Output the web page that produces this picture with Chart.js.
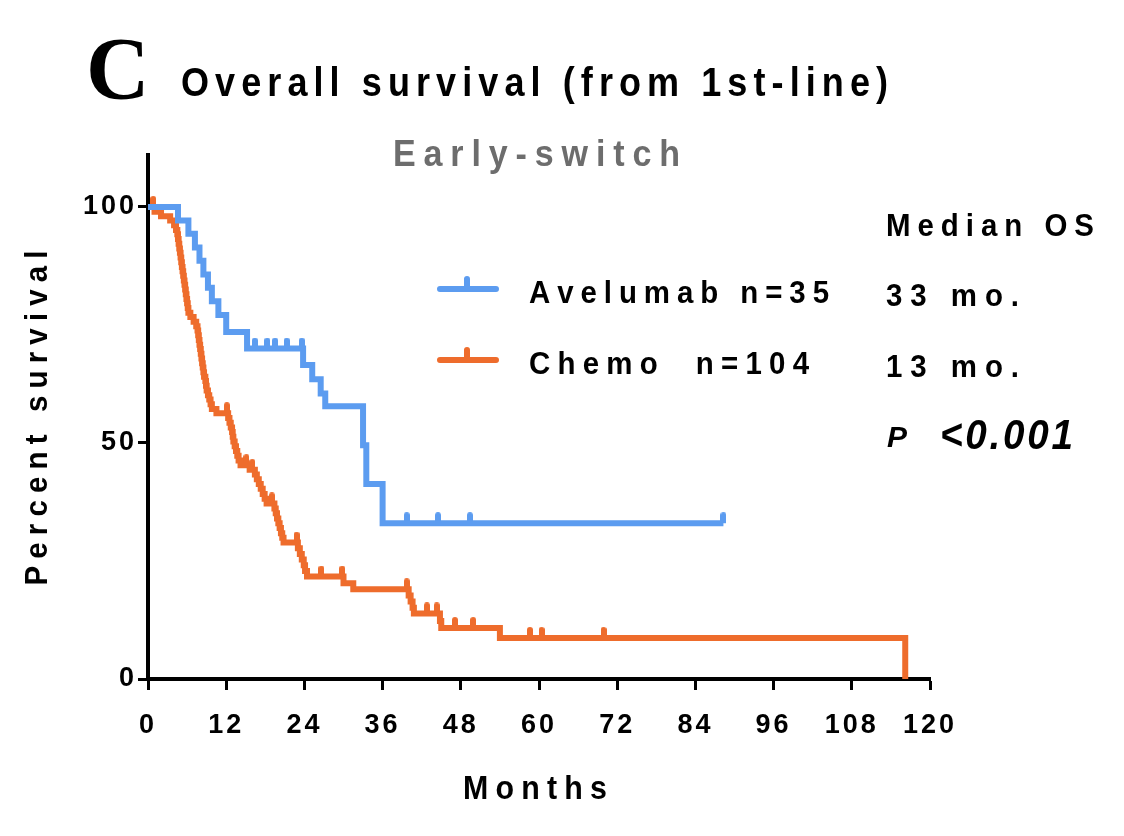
<!DOCTYPE html>
<html>
<head>
<meta charset="utf-8">
<script src="https://cdn.jsdelivr.net/npm/chart.js@4.4.1/dist/chart.umd.min.js"></script>
<style>
  html, body { margin: 0; padding: 0; background: #ffffff; }
  canvas { display: block; }
</style>
</head>
<body>
<canvas id="c" width="1124" height="836"></canvas>
<script>
// ---------- data ----------
const xTicks = [0, 12, 24, 36, 48, 60, 72, 84, 96, 108, 120];
const yTicks = [0, 50, 100];

const avelumabMonths   = [0, 4.6, 6.2, 7.2, 7.9, 8.5, 9.2, 9.8, 10.8, 12.0, 15.2, 23.8, 25.2, 26.5, 27.2, 33.0, 33.5, 36.0, 88.3];
const avelumabSurvival = [100, 97.1, 94.3, 91.4, 88.6, 85.7, 82.9, 80.0, 77.1, 73.5, 70.0, 66.5, 63.5, 60.5, 57.8, 49.5, 41.3, 33.0, 33.0];
const avelumabCensorMonths   = [16.4, 18.3, 19.5, 21.3, 23.6, 39.7, 44.5, 49.4, 88.3];
const avelumabCensorSurvival = [70.0, 70.0, 70.0, 70.0, 70.0, 33.0, 33.0, 33.0, 33.0];

const chemoMonths = [0, 1.0, 2.0, 3.4, 4.0, 4.3, 4.5, 4.6, 4.7, 4.8, 4.9, 5.0, 5.1, 5.2, 5.3, 5.4, 5.5, 5.6, 5.7, 5.8,
  5.9, 6.0, 6.1, 6.2, 6.5, 7.0, 7.4, 7.6, 7.7, 7.8, 7.9, 8.0, 8.1, 8.2, 8.3, 8.4, 8.5, 8.6, 8.8, 8.9,
  9.0, 9.2, 9.4, 9.6, 9.8, 10.5, 12.3, 12.5, 12.7, 12.9, 13.0, 13.1, 13.3, 13.5, 13.7, 13.9, 14.2, 15.6, 16.4, 16.7,
  17.0, 17.3, 17.6, 17.9, 18.2, 19.4, 19.6, 19.8, 20.0, 20.2, 20.4, 20.6, 20.8, 23.0, 23.3, 23.6, 23.9, 24.1, 24.4, 30.0,
  31.5, 40.0, 40.3, 40.6, 40.8, 44.8, 45.0, 54.0, 116.2];
const chemoSurvival = [100, 99.0, 98.0, 97.1, 96.1, 95.1, 94.2, 93.2, 92.2, 91.2, 90.3, 89.3, 88.3, 87.3, 86.4, 85.4, 84.4, 83.5, 82.5, 81.5,
  80.5, 79.6, 78.6, 77.6, 76.7, 75.7, 74.7, 73.8, 72.8, 71.8, 70.8, 69.9, 68.9, 67.9, 66.9, 66.0, 65.0, 64.0, 63.1, 62.1,
  61.1, 60.1, 59.2, 58.2, 57.2, 56.3, 55.3, 54.3, 53.3, 52.3, 51.3, 50.3, 49.3, 48.3, 47.3, 46.3, 45.3, 44.3, 43.3, 42.3,
  41.3, 40.3, 39.2, 38.2, 37.2, 36.1, 35.1, 34.0, 33.0, 32.0, 30.9, 29.9, 28.9, 27.7, 26.5, 25.3, 24.1, 22.9, 21.7, 20.3,
  19.0, 17.7, 16.4, 15.1, 13.9, 12.3, 10.8, 8.7, 0];
const chemoCensorMonths   = [0.8, 12.1, 15.1, 16.0, 19.0, 22.8, 26.6, 29.8, 39.7, 42.8, 44.3, 47.1, 49.9, 58.6, 60.4, 69.9];
const chemoCensorSurvival = [100, 56.3, 45.3, 44.3, 37.2, 28.9, 21.7, 21.7, 19.0, 13.9, 13.9, 10.8, 10.8, 8.7, 8.7, 8.7];

const seriesLabels = ['Avelumab n=35', 'Chemo  n=104'];
const medianLabels = ['33 mo.', '13 mo.'];

// ---------- styles ----------
const BLUE = '#5c9cf0';
const ORANGE = '#ee6c2c';
const SANS = '"Liberation Sans", Arial, Helvetica, sans-serif';
const SERIF = '"Liberation Serif", "Times New Roman", serif';

function pts(xs, ys) { return xs.map((x, i) => ({ x: x, y: ys[i] })); }

function censorMark(color) {
  const c = document.createElement('canvas');
  c.width = 6; c.height = 22;
  const g = c.getContext('2d');
  g.fillStyle = color;
  g.beginPath();
  g.arc(3, 3, 3, Math.PI, 0);
  g.lineTo(6, 11);
  g.lineTo(0, 11);
  g.closePath();
  g.fill();
  return c;
}

// draw text char by char, horizontally condensed by sx, spread to a total width
function spacedText(ctx, text, x, y, width, align, sx) {
  sx = sx || 0.92;
  const ws = [];
  let w0 = 0;
  for (const ch of text) { const w = ctx.measureText(ch).width * sx; ws.push(w); w0 += w; }
  const n = ws.length;
  const sp = n > 1 ? (width - w0) / (n - 1) : 0;
  let cx = align === 'center' ? x - width / 2 : x;
  let i = 0;
  ctx.textAlign = 'left';
  for (const ch of text) {
    ctx.save();
    ctx.translate(cx, y);
    ctx.scale(sx, 1);
    ctx.fillText(ch, 0, 0);
    ctx.restore();
    cx += ws[i] + sp; i++;
  }
}

const annotations = {
  id: 'annotations',
  beforeDraw(chart) {
    chart.ctx.letterSpacing = '3px';
  },
  beforeDatasetsDraw(chart) {
    chart.ctx.letterSpacing = '0px';
  },
  afterDraw(chart) {
    const ctx = chart.ctx;
    ctx.save();
    ctx.letterSpacing = '0px';
    ctx.textBaseline = 'alphabetic';
    ctx.fillStyle = '#000';

    // Panel letter
    ctx.font = 'bold 88px ' + SERIF;
    ctx.textAlign = 'left';
    ctx.fillText('C', 86, 98);

    // Title
    ctx.font = 'bold 40px ' + SANS;
    spacedText(ctx, 'Overall survival (from 1st-line)', 181, 96, 707, 'left', 0.9);

    // Subtitle
    ctx.fillStyle = '#6d6d6d';
    ctx.font = 'bold 37px ' + SANS;
    spacedText(ctx, 'Early-switch', 393, 166, 287, 'left');

    // Axis titles
    ctx.fillStyle = '#000';
    ctx.font = 'bold 33px ' + SANS;
    spacedText(ctx, 'Months', 463, 799, 144, 'left');
    ctx.font = 'bold 32px ' + SANS;
    ctx.save();
    ctx.translate(35, 418);
    ctx.rotate(-Math.PI / 2);
    spacedText(ctx, 'Percent survival', 0, 12, 335, 'center');
    ctx.restore();

    // Legend
    const legendY = [289, 360];
    const colors = [BLUE, ORANGE];
    for (let i = 0; i < 2; i++) {
      ctx.strokeStyle = colors[i];
      ctx.lineWidth = 6;
      ctx.lineCap = 'round';
      ctx.beginPath();
      ctx.moveTo(440, legendY[i]);
      ctx.lineTo(496, legendY[i]);
      ctx.moveTo(467, legendY[i]);
      ctx.lineTo(467, legendY[i] - 10);
      ctx.stroke();
      ctx.fillStyle = '#000';
      ctx.font = 'bold 32px ' + SANS;
      spacedText(ctx, seriesLabels[i], 529, legendY[i] + 14, i === 0 ? 300 : 280, 'left');
      spacedText(ctx, medianLabels[i], 886, legendY[i] + 17, 133, 'left');
    }
    ctx.font = 'bold 32px ' + SANS;
    spacedText(ctx, 'Median OS', 886, 236, 208, 'left');

    ctx.font = 'italic bold 30px ' + SANS;
    ctx.textAlign = 'left';
    ctx.fillText('P', 887, 447);
    ctx.font = 'italic bold 42px ' + SANS;
    spacedText(ctx, '<0.001', 940, 449, 133, 'left', 0.92);
    ctx.restore();
  }
};

const chart = new Chart(document.getElementById('c'), {
  data: {
    datasets: [
      {
        type: 'line', label: seriesLabels[0], data: pts(avelumabMonths, avelumabSurvival),
        stepped: true, borderColor: BLUE, borderWidth: 6, pointRadius: 0, fill: false,
        borderCapStyle: 'butt', borderJoinStyle: 'miter'
      },
      {
        type: 'scatter', label: 'Avelumab censored', data: pts(avelumabCensorMonths, avelumabCensorSurvival),
        pointStyle: censorMark(BLUE), pointRadius: 5, showLine: false
      },
      {
        type: 'line', label: seriesLabels[1], data: pts(chemoMonths, chemoSurvival),
        stepped: true, borderColor: ORANGE, borderWidth: 6, pointRadius: 0, fill: false,
        borderCapStyle: 'butt', borderJoinStyle: 'miter'
      },
      {
        type: 'scatter', label: 'Chemo censored', data: pts(chemoCensorMonths, chemoCensorSurvival),
        pointStyle: censorMark(ORANGE), pointRadius: 5, showLine: false
      }
    ]
  },
  options: {
    responsive: false,
    animation: false,
    devicePixelRatio: 1,
    layout: { padding: { left: 0, right: 194, top: 155, bottom: 0 } },
    plugins: { legend: { display: false }, title: { display: false }, tooltip: { enabled: false } },
    scales: {
      x: {
        type: 'linear', min: 0, max: 120,
        afterFit(scale) { scale.height = 157; },
        afterBuildTicks(scale) { scale.ticks = xTicks.map(v => ({ value: v })); },
        grid: { drawOnChartArea: false, drawTicks: true, tickLength: 11, tickWidth: 3, tickColor: '#000' },
        border: { display: true, color: '#000', width: 4 },
        ticks: { color: '#000', font: { family: SANS, weight: 'bold', size: 27 }, padding: 19, maxRotation: 0 }
      },
      y: {
        type: 'linear', min: 0, max: 111,
        afterFit(scale) { scale.width = 148; },
        afterBuildTicks(scale) { scale.ticks = yTicks.map(v => ({ value: v })); },
        grid: { drawOnChartArea: false, drawTicks: true, tickLength: 10, tickWidth: 3, tickColor: '#000' },
        border: { display: true, color: '#000', width: 4 },
        ticks: { color: '#000', font: { family: SANS, weight: 'bold', size: 27 }, padding: 1 }
      }
    }
  },
  plugins: [annotations]
});
</script>
</body>
</html>
